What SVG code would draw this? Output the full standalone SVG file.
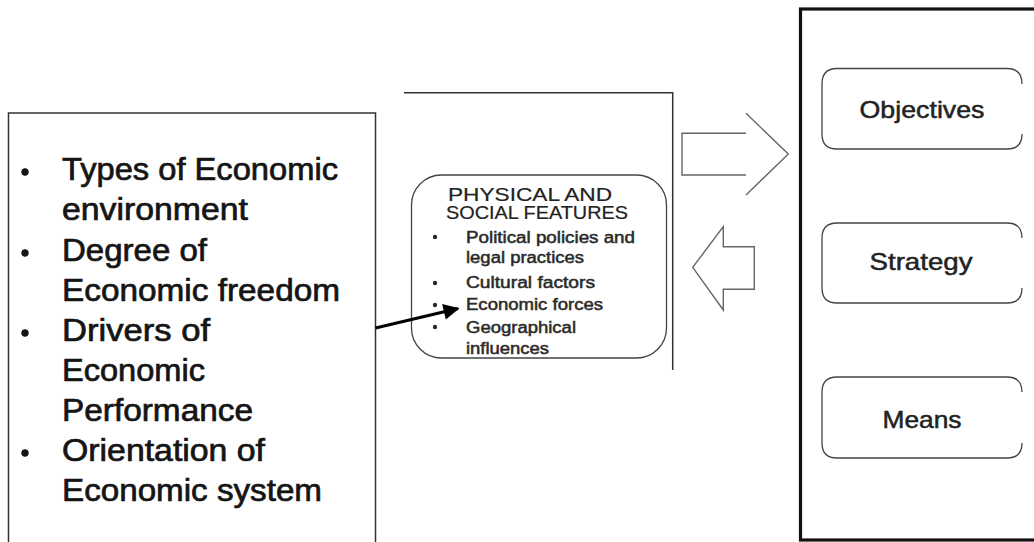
<svg xmlns="http://www.w3.org/2000/svg" width="1034" height="542" viewBox="0 0 1034 542">
<defs>
<style>
.box{fill:none;stroke:#333;stroke-width:1.5}
.thick{fill:none;stroke:#111;stroke-width:3.2}
.rbox{fill:none;stroke:#444;stroke-width:1.3}
.blk{fill:none;stroke:#666;stroke-width:1.4}
.big{font-family:"Liberation Sans",Arial,sans-serif;font-size:31px;fill:#151515;stroke:#151515;stroke-width:0.7}
.mid{font-family:"Liberation Sans",Arial,sans-serif;font-size:18px;fill:#222;stroke:#222;stroke-width:0.2}
.sm{font-family:"Liberation Sans",Arial,sans-serif;font-size:16px;fill:#2a2a2a;stroke:#2a2a2a;stroke-width:0.5}
.lbl{font-family:"Liberation Sans",Arial,sans-serif;font-size:24px;fill:#222;stroke:#222;stroke-width:0.5;text-anchor:middle}
.dot{fill:#2a2a2a;stroke:none}
</style>
<marker id="ah" viewBox="0 0 10 10" refX="9" refY="5" markerWidth="6" markerHeight="5" orient="auto" markerUnits="strokeWidth">
<path d="M0,0 L10,5 L0,10 Z" fill="#000"/>
</marker>
</defs>
<rect width="1034" height="542" fill="#fff"/>

<g id="economic-list">
<rect class="box" x="8.5" y="113" width="367" height="440"/>
<g class="big">
<circle cx="25" cy="172" r="3.4" fill="#151515"/>
<circle cx="25" cy="253" r="3.4" fill="#151515"/>
<circle cx="25" cy="333" r="3.4" fill="#151515"/>
<circle cx="25" cy="453" r="3.4" fill="#151515"/>
<text x="62" y="180" textLength="276" lengthAdjust="spacingAndGlyphs">Types of Economic</text>
<text x="62" y="220" textLength="186" lengthAdjust="spacingAndGlyphs">environment</text>
<text x="62" y="261" textLength="145" lengthAdjust="spacingAndGlyphs">Degree of</text>
<text x="62" y="301" textLength="278" lengthAdjust="spacingAndGlyphs">Economic freedom</text>
<text x="62" y="341" textLength="148" lengthAdjust="spacingAndGlyphs">Drivers of</text>
<text x="62" y="381" textLength="143" lengthAdjust="spacingAndGlyphs">Economic</text>
<text x="62" y="421" textLength="191" lengthAdjust="spacingAndGlyphs">Performance</text>
<text x="62" y="461" textLength="203" lengthAdjust="spacingAndGlyphs">Orientation of</text>
<text x="62" y="501" textLength="260" lengthAdjust="spacingAndGlyphs">Economic system</text>
</g>
</g>

<g id="environment-frame">
<polyline class="box" points="404,92.7 672.7,92.7 672.7,370"/>
</g>

<g id="physical-social-features">
<rect class="rbox" x="411.5" y="175" width="255" height="183" rx="30" ry="30"/>
<text class="mid" x="530" y="201" text-anchor="middle" textLength="164" lengthAdjust="spacingAndGlyphs">PHYSICAL AND</text>
<text class="mid" x="537" y="219" text-anchor="middle" textLength="182" lengthAdjust="spacingAndGlyphs">SOCIAL FEATURES</text>
<circle class="dot" cx="435" cy="237" r="2.2"/>
<circle class="dot" cx="435" cy="283" r="2.2"/>
<circle class="dot" cx="435" cy="305" r="2.2"/>
<circle class="dot" cx="435" cy="327" r="2.2"/>
<g class="sm">
<text x="466" y="243" textLength="169" lengthAdjust="spacingAndGlyphs">Political policies and</text>
<text x="466" y="263" textLength="118" lengthAdjust="spacingAndGlyphs">legal practices</text>
<text x="466" y="288" textLength="129" lengthAdjust="spacingAndGlyphs">Cultural factors</text>
<text x="466" y="310" textLength="137" lengthAdjust="spacingAndGlyphs">Economic forces</text>
<text x="466" y="333" textLength="110" lengthAdjust="spacingAndGlyphs">Geographical</text>
<text x="466" y="354" textLength="83" lengthAdjust="spacingAndGlyphs">influences</text>
</g>
</g>

<g id="organisation">
<rect class="thick" x="800.5" y="9" width="260" height="531"/>
</g>
<g id="objectives">
<path class="rbox" d="M1022,84 Q1022,68.5 1007,68.5 L837,68.5 Q822,68.5 822,84 L822,134 Q822,149 837,149 L1007,149 Q1022,149 1022,134"/>
<text class="lbl" x="922" y="118" textLength="125" lengthAdjust="spacingAndGlyphs">Objectives</text>
</g>
<g id="strategy">
<path class="rbox" d="M1022,238 Q1022,223 1007,223 L837,223 Q822,223 822,238 L822,288 Q822,303 837,303 L1007,303 Q1022,303 1022,288"/>
<text class="lbl" x="921" y="270" textLength="103" lengthAdjust="spacingAndGlyphs">Strategy</text>
</g>
<g id="means">
<path class="rbox" d="M1022,392 Q1022,377 1007,377 L837,377 Q822,377 822,392 L822,443 Q822,458 837,458 L1007,458 Q1022,458 1022,443"/>
<text class="lbl" x="922" y="428" textLength="79" lengthAdjust="spacingAndGlyphs">Means</text>
</g>

<g id="connectors">
<line x1="375.5" y1="328" x2="458" y2="308.5" stroke="#000" stroke-width="3.2" marker-end="url(#ah)"/>
<polyline class="blk" points="746,133.3 682,133.3 682,175 746,175"/>
<polyline class="blk" points="746,113.3 788.3,154 746,195"/>
<polygon class="blk" points="692.7,267.3 723.3,226.7 723.3,246.7 754.3,246.7 754.3,289.3 723.3,289.3 723.3,310"/>
</g>
</svg>
